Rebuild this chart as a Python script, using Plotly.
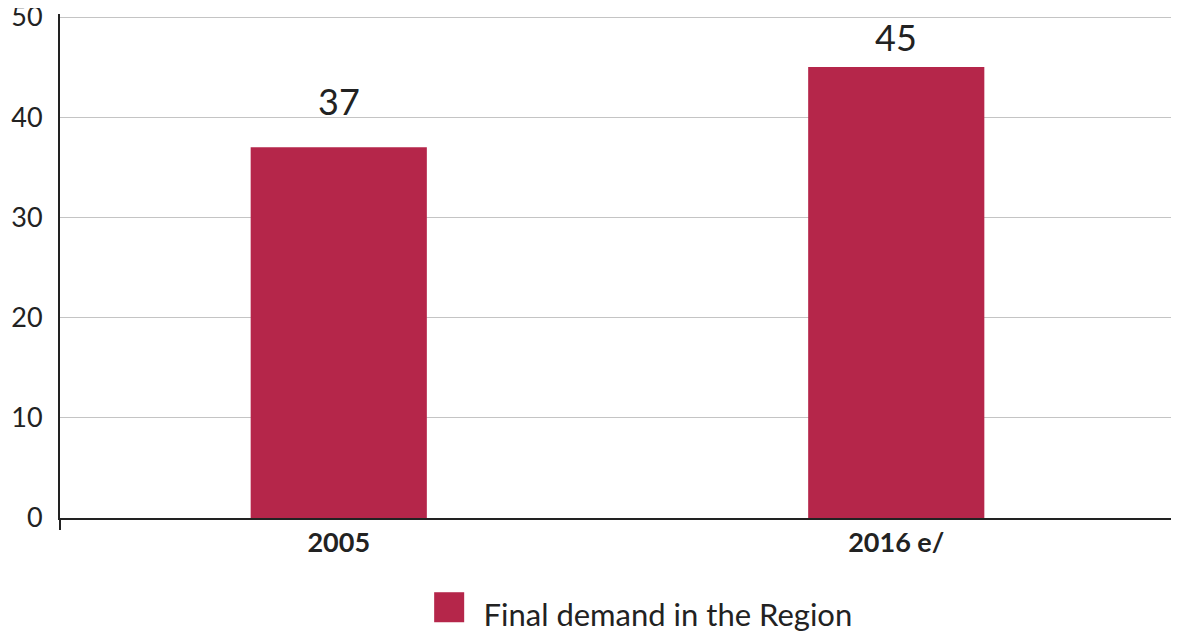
import plotly.graph_objects as go

categories = ["2005", "2016 e/"]
values = [37, 45]
series_name = "Final demand in the Region"
y_ticks = [0, 10, 20, 30, 40, 50]

bar_color = "#B5264A"
font_family = "Lato, 'Open Sans', sans-serif"
label_shift_px = [22, 6]

fig = go.Figure()
fig.add_trace(go.Bar(
    x=categories, y=values, marker=dict(color=bar_color, line=dict(width=0)),
    showlegend=False, hoverinfo="x+y",
))
# legend entry with a larger square swatch
fig.add_trace(go.Scatter(
    x=[categories[0]], y=[None], mode="markers",
    name=f'<span style="font-size:62px;color:{bar_color}">■</span>&nbsp;&nbsp;' + series_name,
    marker=dict(symbol="square", size=1, color="rgba(0,0,0,0)"),
))

for i, v in enumerate(values):
    fig.add_annotation(x=i, y=v, text=str(v), showarrow=False, yanchor="bottom",
                       yshift=label_shift_px[i], font=dict(size=36, color="#222", family=font_family))

fig.add_shape(type="line", xref="paper", yref="paper", x0=0, x1=0, y0=0, y1=-0.024,
              line=dict(color="#222", width=2))

fig.update_layout(
    width=1171, height=630,
    margin=dict(l=52, r=4, t=6, b=120, autoexpand=False),
    plot_bgcolor="white", paper_bgcolor="white",
    bargap=0.684,
    font=dict(family=font_family, color="#222"),
    showlegend=True,
    legend=dict(orientation="h", x=0.506, xanchor="center", y=-0.137, yanchor="top",
                font=dict(size=31, color="#222"), itemwidth=30),
    xaxis=dict(type="category", range=[-0.5, 1.5], showline=True, linecolor="#222", linewidth=2,
               ticks="", tickfont=dict(size=27, color="#222", weight="bold"),
               showgrid=False, automargin=False),
    yaxis=dict(range=[0, 50.3], tickvals=y_ticks, showline=True, linecolor="#222", linewidth=2,
               gridcolor="#c4c4c4", gridwidth=1, ticks="", zeroline=False,
               tickfont=dict(size=27, color="#222"), ticklabelstandoff=10, automargin=False,
               ticklabeloverflow="allow"),
)
fig.write_html("out.html")
